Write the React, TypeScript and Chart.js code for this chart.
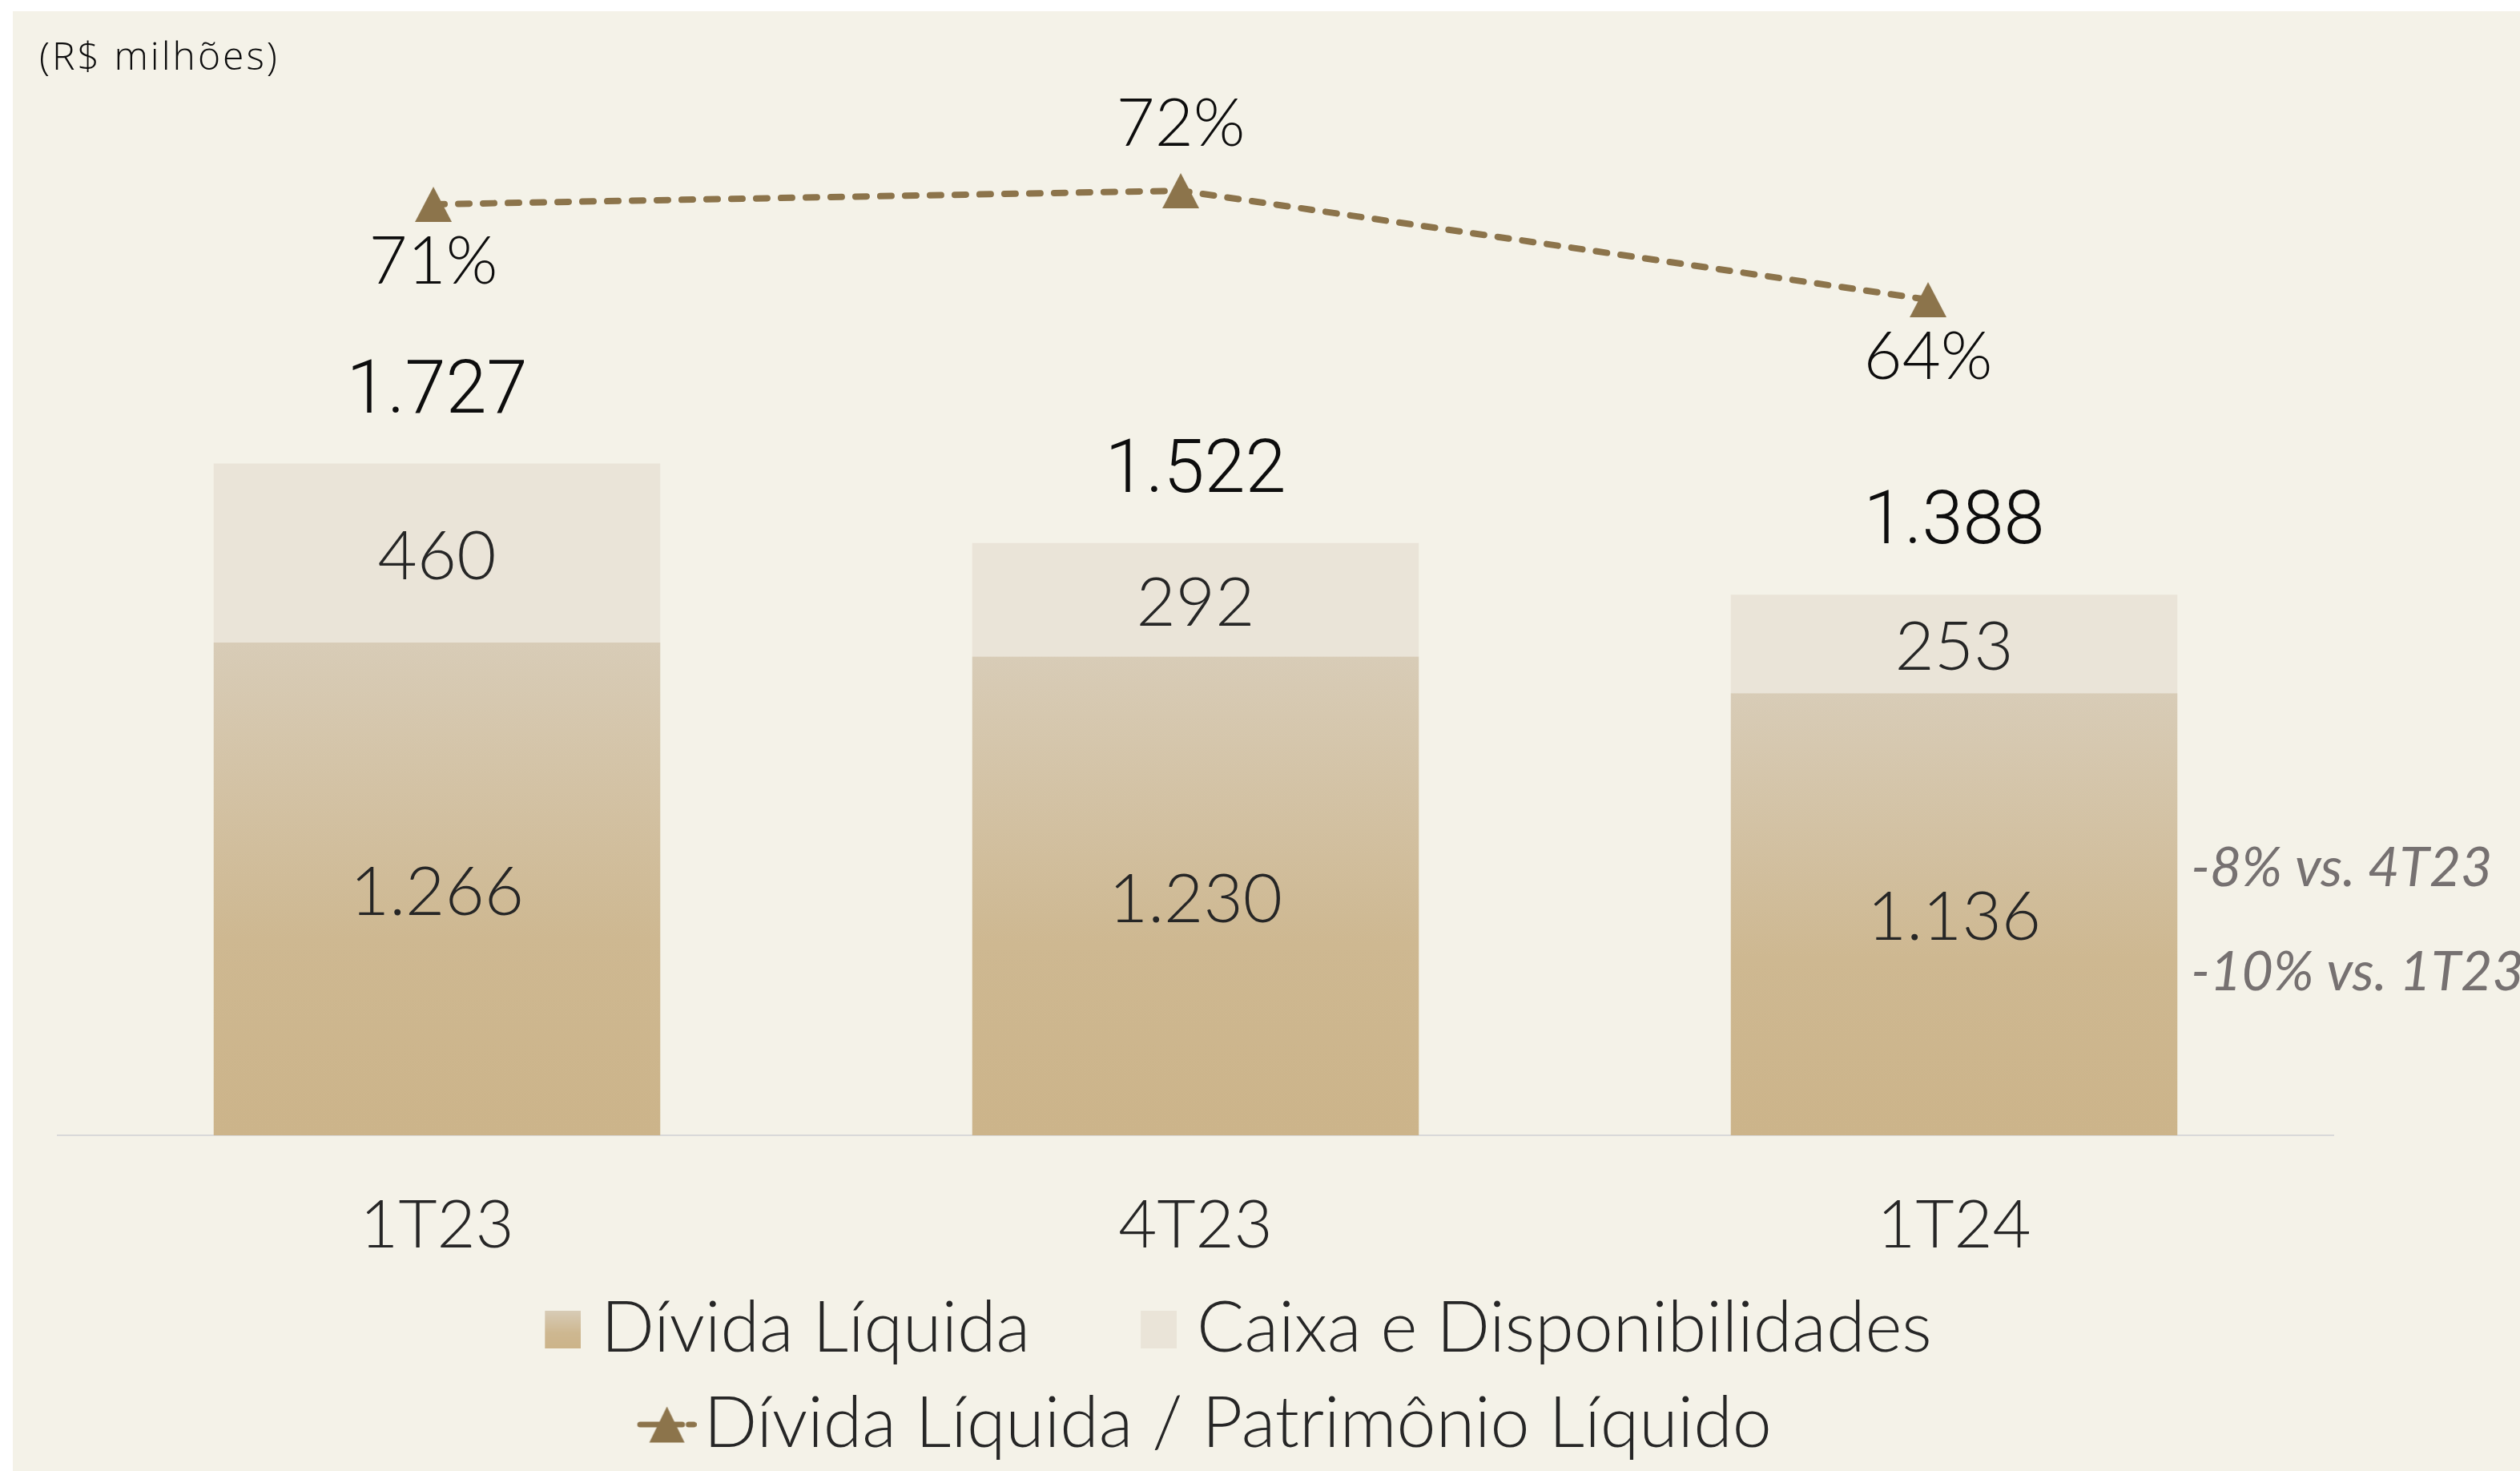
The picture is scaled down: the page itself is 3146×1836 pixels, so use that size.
import React, { useEffect, useRef } from 'react';
import { Chart, registerables } from 'chart.js';

Chart.register(...registerables);

// ---------------- data ----------------
const categories = ['1T23', '4T23', '1T24'];
const dividaLiquida = [1266, 1230, 1136];
const caixa = [460, 292, 253];
const totals = [1727, 1522, 1388];
const dividaPL = [71, 72, 64];
const ratioLabelSide = ['below', 'above', 'below'];
const comparisons = ['-8% vs. 4T23', '-10% vs. 1T23'];
const seriesNames = ['Dívida Líquida', 'Caixa e Disponibilidades', 'Dívida Líquida / Patrimônio Líquido'];
const unitLabel = '(R$ milhões)';

// ---------------- styles ----------------
const CREAM = '#F4F2E8';
const CAIXA = '#EAE4D8';
const GRAD_TOP = '#D8CCB7';
const GRAD_MID = '#CEB891';
const GRAD_BOT = '#CCB48A';
const LINE = '#8C744B';
const TEXT = '#262626';
const DARK = '#0D0D0D';
const NOTE = '#767171';
const LEGEND_FONT = 88;
const LEGEND_PAD = 31;
const LEGEND_BOX = 133;

const fmt = (v: number) => String(v).replace(/\B(?=(\d{3})+(?!\d))/g, '.');

function makeCanvas(w: number, h: number) {
  const c = document.createElement('canvas');
  c.width = w;
  c.height = h;
  return c;
}

function triangleIcon() {
  const c = makeCanvas(46, 44);
  const g = c.getContext('2d')!;
  g.fillStyle = LINE;
  g.beginPath();
  g.moveTo(23, 0);
  g.lineTo(46, 44);
  g.lineTo(0, 44);
  g.closePath();
  g.fill();
  return c;
}

function squareIcon(kind: 'grad' | 'flat') {
  const sq = 45, h = 47;
  const w = LEGEND_BOX + 2 * (LEGEND_FONT / 2 - 25);
  const c = makeCanvas(w, h);
  const g = c.getContext('2d')!;
  if (kind === 'grad') {
    const gr = g.createLinearGradient(0, 0, 0, h);
    gr.addColorStop(0, GRAD_TOP);
    gr.addColorStop(0.6, GRAD_MID);
    gr.addColorStop(1, GRAD_BOT);
    g.fillStyle = gr;
  } else {
    g.fillStyle = CAIXA;
  }
  g.fillRect(w - sq, 0, sq, h);
  return c;
}

function lineIcon() {
  const w = LEGEND_BOX + 2 * (LEGEND_FONT / 2 - 9), h = 46;
  const c = makeCanvas(w, h);
  const g = c.getContext('2d')!;
  const x0 = w - 74;
  const cy = 23;
  g.strokeStyle = LINE;
  g.lineWidth = 7;
  g.lineCap = 'round';
  const segs = [[3.5, 29], [43, 56], [64, 70.5]];
  segs.forEach(([a, b]) => {
    g.beginPath();
    g.moveTo(x0 + a, cy);
    g.lineTo(x0 + b, cy);
    g.stroke();
  });
  g.fillStyle = LINE;
  g.beginPath();
  g.moveTo(x0 + 37, 0.5);
  g.lineTo(x0 + 59, 45.5);
  g.lineTo(x0 + 15, 45.5);
  g.closePath();
  g.fill();
  return c;
}

const labelsPlugin = {
  id: 'valueLabels',
  afterDatasetsDraw(chart: any) {
    const c = chart.ctx as CanvasRenderingContext2D;
    const m0 = chart.getDatasetMeta(0);
    const m1 = chart.getDatasetMeta(1);
    const m2 = chart.getDatasetMeta(2);
    c.save();
    c.textAlign = 'center';
    c.textBaseline = 'middle';

    c.font = '300 85px Lato';
    c.fillStyle = TEXT;
    m0.data.forEach((el: any, i: number) => {
      const p = el.getProps(['x', 'y', 'base'], true);
      c.fillText(fmt(dividaLiquida[i]), p.x, (p.y + p.base) / 2 + 5);
    });
    m1.data.forEach((el: any, i: number) => {
      const p = el.getProps(['x', 'y', 'base'], true);
      c.fillText(fmt(caixa[i]), p.x, (p.y + p.base) / 2 + 5);
    });

    c.font = '300 92px Roboto';
    c.fillStyle = DARK;
    m1.data.forEach((el: any, i: number) => {
      const p = el.getProps(['x', 'y'], true);
      c.fillText(fmt(totals[i]), p.x, p.y - 87);
    });

    c.font = '300 83px Lato';
    m2.data.forEach((el: any, i: number) => {
      const p = el.getProps(['x', 'y'], true);
      const dy = ratioLabelSide[i] === 'above' ? -83 : 72;
      c.fillText(dividaPL[i] + '%', p.x, p.y + dy);
    });

    const lastEl = m0.data[m0.data.length - 1];
    if (lastEl) {
      const p = lastEl.getProps(['x', 'y', 'base', 'width'], true);
      const mid = (p.y + p.base) / 2;
      c.font = 'italic 400 68px Lato';
      c.fillStyle = NOTE;
      c.textAlign = 'left';
      c.textBaseline = 'alphabetic';
      c.fillText(comparisons[0], p.x + p.width / 2 + 17, mid - 35);
      c.fillText(comparisons[1], p.x + p.width / 2 + 17, mid + 95);
    }

    c.font = '300 48px "Open Sans"';
    c.fillStyle = DARK;
    c.textAlign = 'left';
    c.textBaseline = 'alphabetic';
    (c as any).letterSpacing = '3px';
    c.fillText(unitLabel, 49, 87);
    c.restore();
  },
};

export default function App() {
  const ref = useRef<HTMLCanvasElement>(null);

  useEffect(() => {
    const canvas = ref.current;
    if (!canvas) return;
    const tri = triangleIcon();
    const icons = [squareIcon('grad'), squareIcon('flat'), lineIcon()];

    const barGradient = (ctx: any) => {
      const chart = ctx.chart;
      const ys = chart.scales && chart.scales.y;
      if (!ys || ctx.type !== 'data' || !ctx.parsed) return GRAD_BOT;
      const top = ys.getPixelForValue(ctx.parsed.y);
      const base = ys.getPixelForValue(0);
      if (!isFinite(top) || !isFinite(base) || base - top < 1) return GRAD_BOT;
      const g = chart.ctx.createLinearGradient(0, top, 0, base);
      g.addColorStop(0, GRAD_TOP);
      g.addColorStop(0.6, GRAD_MID);
      g.addColorStop(1, GRAD_BOT);
      return g;
    };

    const chart = new Chart(canvas, {
      type: 'bar',
      data: {
        labels: categories,
        datasets: [
          {
            type: 'bar',
            label: seriesNames[0],
            data: dividaLiquida,
            backgroundColor: barGradient,
            borderWidth: 0,
            barPercentage: 0.5887,
            categoryPercentage: 1,
            grouped: false,
            stack: 'total',
            order: 1,
          },
          {
            type: 'bar',
            label: seriesNames[1],
            data: caixa,
            backgroundColor: CAIXA,
            borderWidth: 0,
            barPercentage: 0.5887,
            categoryPercentage: 1,
            grouped: false,
            stack: 'total',
            order: 2,
          },
          {
            type: 'line',
            label: seriesNames[2],
            data: dividaPL.map((v, i) => ({ x: i, y: v })),
            xAxisID: 'x2',
            yAxisID: 'y2',
            borderColor: LINE,
            backgroundColor: LINE,
            borderWidth: 8,
            borderDash: [14, 17],
            borderCapStyle: 'round',
            tension: 0,
            pointStyle: tri,
            pointRadius: 22,
            pointBorderWidth: 0,
            fill: false,
            clip: false,
            order: 0,
          } as any,
        ],
      },
      options: {
        responsive: false,
        maintainAspectRatio: false,
        devicePixelRatio: 1,
        animation: false,
        events: [],
        layout: { autoPadding: false, padding: { top: 0, left: 72, right: 233, bottom: 4 } },
        scales: {
          x: {
            type: 'category',
            stacked: true,
            grid: { display: false, drawTicks: false },
            border: { display: true, color: '#D9D9D9', width: 2 },
            ticks: {
              color: TEXT,
              padding: 63,
              font: { family: 'Lato', size: 83, weight: '300' },
              maxRotation: 0,
            },
            afterFit: (s: any) => { s.height = 167; },
          },
          x2: {
            type: 'linear',
            axis: 'x',
            display: false,
            offset: false,
            min: -0.5027,
            max: 2.5423,
          },
          y: {
            stacked: true,
            display: false,
            min: 0,
            max: 2917,
          },
          y2: {
            type: 'linear',
            axis: 'y',
            display: false,
            beginAtZero: false,
            min: 2.65,
            max: 86.0,
          },
        },
        plugins: {
          tooltip: { enabled: false },
          title: { display: false },
          legend: {
            display: true,
            position: 'bottom',
            align: 'center',
            labels: {
              usePointStyle: true,
              pointStyleWidth: LEGEND_BOX,
              padding: LEGEND_PAD,
              color: TEXT,
              font: { family: 'Lato', size: LEGEND_FONT, weight: '300' },
              generateLabels: (ch: any) =>
                ch.data.datasets.map((ds: any, i: number) => ({
                  text: ds.label + (i === 2 ? '\u00A0\u00A0\u00A0' : ''),
                  pointStyle: icons[i],
                  datasetIndex: i,
                  hidden: !ch.isDatasetVisible(i),
                  fillStyle: 'rgba(0,0,0,0)',
                  strokeStyle: 'rgba(0,0,0,0)',
                  lineWidth: 0,
                  fontColor: TEXT,
                })),
            },
          },
        },
      } as any,
      plugins: [labelsPlugin],
    });

    return () => chart.destroy();
  }, []);

  return (
    <div
      style={{
        position: 'absolute',
        left: 0,
        top: 0,
        width: 3146,
        height: 1836,
        background: '#FFFFFF',
        overflow: 'hidden',
      }}
    >
      <div style={{ position: 'absolute', left: 16, top: 14, right: 0, bottom: 0, background: CREAM }} />
      <canvas
        ref={ref}
        width={3146}
        height={1836}
        style={{ position: 'absolute', left: 0, top: 0, width: 3146, height: 1836 }}
      />
    </div>
  );
}
